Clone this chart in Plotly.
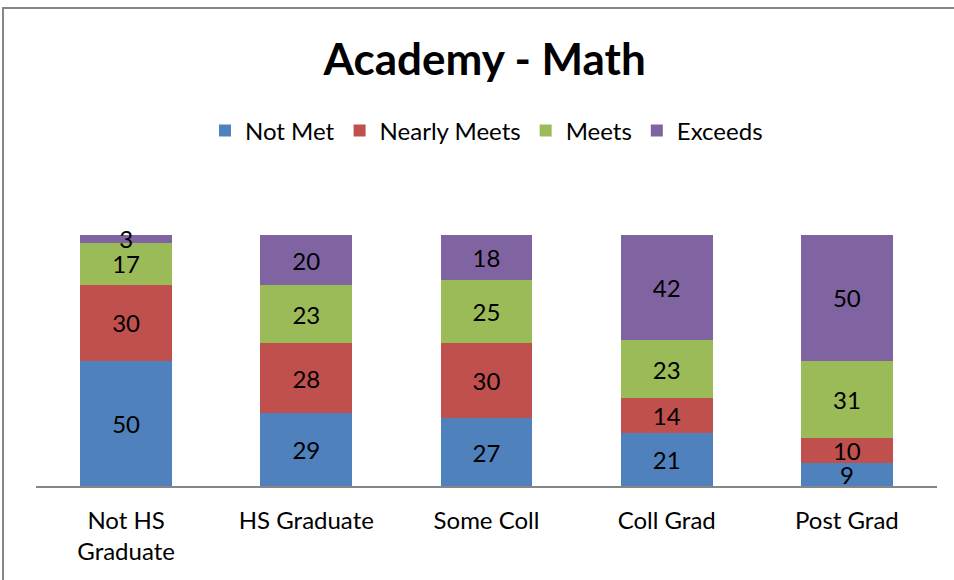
import plotly.graph_objects as go

categories = ["Not HS<br>Graduate", "HS Graduate", "Some Coll", "Coll Grad", "Post Grad"]
series_names = ["Not Met", "Nearly Meets", "Meets", "Exceeds"]
not_met = [50, 29, 27, 21, 9]
nearly_meets = [30, 28, 30, 14, 10]
meets = [17, 23, 25, 23, 31]
exceeds = [3, 20, 18, 42, 50]
colors = ["#4F81BD", "#C0504D", "#9BBB59", "#8064A2"]

FONT = "Lato"
W, H = 954, 580
L, R, T, B = 36, 17, 235, 94

fig = go.Figure()
for name, vals, col in zip(series_names, [not_met, nearly_meets, meets, exceeds], colors):
    fig.add_trace(go.Bar(
        name=name, x=categories, y=vals, marker=dict(color=col, line=dict(width=0)),
        text=[str(v) for v in vals], textposition="inside", insidetextanchor="middle",
        constraintext="none", textangle=0, cliponaxis=False,
        textfont=dict(family=FONT, size=24, color="black"),
        hoverinfo="skip",
    ))

pw = W - L - R
ph = H - T - B
fig.update_layout(
    width=W, height=H, barmode="stack", bargap=0.49,
    margin=dict(l=L, r=R, t=T, b=B, autoexpand=False),
    paper_bgcolor="white", plot_bgcolor="white",
    font=dict(family=FONT, color="black"),
    title=dict(text="<b>Academy - Math</b>", x=0.508, xanchor="center", y=1 - 60 / H,
               yanchor="middle", font=dict(family=FONT, size=44, color="black")),
    legend=dict(orientation="h", x=0.5, xanchor="center", y=(H - B - 131) / ph, yanchor="middle",
                font=dict(family=FONT, size=24, color="black"), traceorder="normal",
                itemwidth=30, tracegroupgap=0),
    xaxis=dict(showline=True, linecolor="#868686", linewidth=2, ticks="", showgrid=False,
               tickfont=dict(family=FONT, size=24, color="black"), fixedrange=True,
               ticklabelstandoff=12),
    yaxis=dict(range=[0, 100], visible=False, showgrid=False, fixedrange=True),
    showlegend=True,
)
fig.add_shape(type="rect", xref="paper", yref="paper",
              x0=(3 - L) / pw, x1=(W + 10 - L) / pw,
              y0=-(B + 10) / ph, y1=(H - B - 8) / ph,
              line=dict(color="#868686", width=2), fillcolor="rgba(0,0,0,0)", layer="below")
fig.write_html("out.html", post_script="document.body.style.margin='0';",
               config={"displayModeBar": False})
